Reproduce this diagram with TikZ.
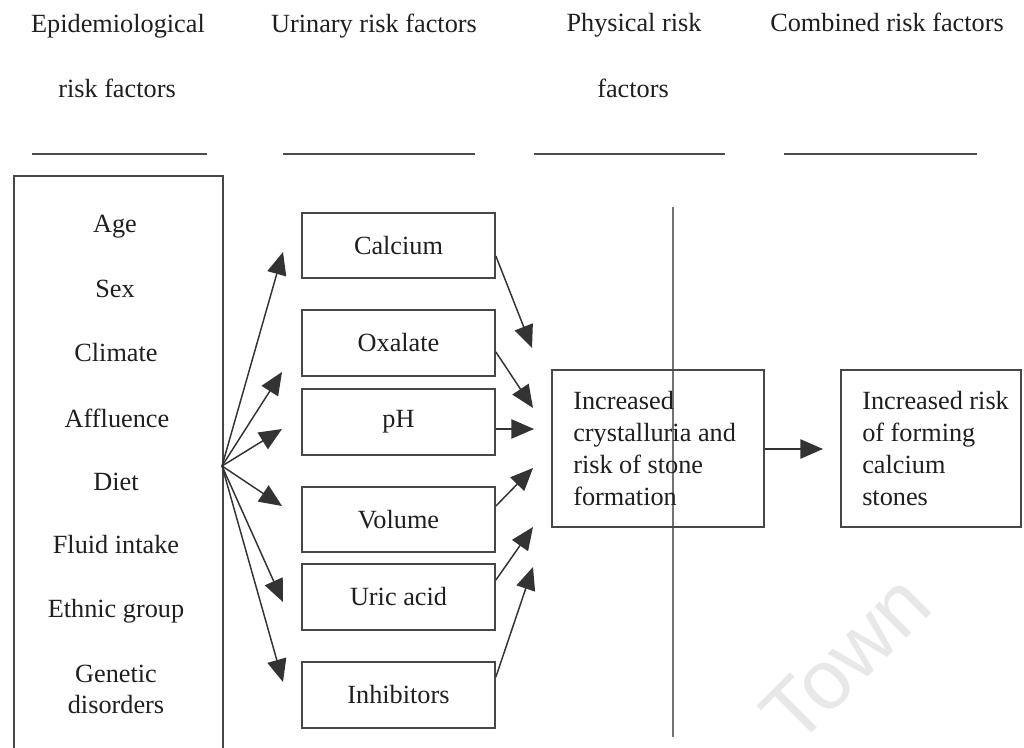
\documentclass[tikz,border=0pt]{standalone}
\usepackage{fontspec}
\setmainfont{Liberation Serif}
\newfontfamily\wmfont{Liberation Sans}
\usetikzlibrary{arrows.meta,calc}
\begin{document}
\begin{tikzpicture}[x=0.75pt,y=-0.75pt,
  every node/.style={text=black!88, font=\fontsize{19.7}{24}\selectfont},
  box/.style={draw=black!72, line width=1.3pt, inner sep=0pt},
  ubox/.style={box, minimum width=193*0.75pt, minimum height=65.5*0.75pt},
  hdr/.style={anchor=base, inner sep=0pt},
  item/.style={anchor=base, inner sep=0pt},
  rule/.style={draw=black!70, line width=1.1pt},
  conn/.style={draw=black!80, line width=1.1pt, -{Triangle[length=17pt,width=14.5pt]}},
  divider/.style={draw=black!55, line width=0.8pt}]
\useasboundingbox[fill=white] (0,0) rectangle (1024,748);

% watermark
\node[rotate=45, text=black!9, font=\wmfont\fontsize{63}{63}\selectfont, inner sep=0pt] (wm) at (846,659) {Town};

% headers
\node[hdr] (h1a) at (118,33) {Epidemiological};
\node[hdr] (h1b) at (117,98) {risk factors};
\node[hdr] (h2) at (374,33) {Urinary risk factors};
\node[hdr] (h3a) at (634,32) {Physical risk};
\node[hdr] (h3b) at (633,98) {factors};
\node[hdr] (h4) at (887,32) {Combined risk factors};

% underlines
\coordinate (u1a) at (32,154);  \coordinate (u1b) at (207,154);
\coordinate (u2a) at (283,154); \coordinate (u2b) at (475,154);
\coordinate (u3a) at (534,154); \coordinate (u3b) at (725,154);
\coordinate (u4a) at (784,154); \coordinate (u4b) at (977,154);
\draw[rule] (u1a) -- (u1b);
\draw[rule] (u2a) -- (u2b);
\draw[rule] (u3a) -- (u3b);
\draw[rule] (u4a) -- (u4b);

% divider line
\coordinate (dtop) at (673,207);
\coordinate (dbot) at (673,737);
\draw[divider] (dtop) -- (dbot);

% epidemiological box
\node[box, anchor=north west, minimum width=209*0.75pt, minimum height=600*0.75pt] (epi) at (13,175) {};
\node[item] (age) at (115,233) {Age};
\node[item] (sex) at (115,297.5) {Sex};
\node[item] (climate) at (116,362) {Climate};
\node[item] (affl) at (117,427) {Affluence};
\node[item] (diet) at (116,490) {Diet};
\node[item] (fluid) at (116,553) {Fluid intake};
\node[item] (ethnic) at (116,617) {Ethnic group};
\node[item] (genetic) at (116,682) {Genetic};
\node[item] (disord) at (116,713) {disorders};

% urinary boxes
\node[ubox] (calcium) at (398.5,245.5) {Calcium};
\node[ubox] (oxalate) at (398.5,343) {Oxalate};
\node[ubox] (ph) at (398.5,422) {pH};
\node[ubox] (volume) at (398.5,519.5) {Volume};
\node[ubox] (uric) at (398.5,597) {Uric acid};
\node[ubox] (inhib) at (398.5,695) {Inhibitors};

% physical and combined boxes
\node[box, minimum width=212*0.75pt, minimum height=157*0.75pt] (phys) at (658,448.5) {};
\node[anchor=north west, align=left, inner sep=0pt] (phystext) at (573,391.5) {Increased\\crystalluria and\\risk of stone\\formation};
\node[box, minimum width=180*0.75pt, minimum height=157*0.75pt] (comb) at (931,448.5) {};
\node[anchor=north west, align=left, inner sep=0pt] (combtext) at (862,391.5) {Increased risk\\of forming\\calcium\\stones};

% fan arrows
\coordinate (fan) at (222,466);
\coordinate (t1) at (283,252);
\coordinate (t2) at (282,372);
\coordinate (t3) at (282,429);
\coordinate (t4) at (282,506);
\coordinate (t5) at (283,602);
\coordinate (t6) at (283,682);
\foreach \t in {t1,t2,t3,t4,t5,t6} \draw[conn] (fan) -- (\t);

% arrows into physical box
\coordinate (p1) at (532,348);
\coordinate (p2) at (533,408);
\coordinate (p3) at (534,429);
\coordinate (p4) at (533,468);
\coordinate (p5) at (533,527);
\coordinate (p6) at (533,567);
\draw[conn] ($(calcium.east)+(0,10.5)$) -- (p1);
\draw[conn] ($(oxalate.east)+(0,9)$) -- (p2);
\draw[conn] ($(ph.east)+(0,7)$) -- (p3);
\draw[conn] ($(volume.east)+(0,-13.5)$) -- (p4);
\draw[conn] ($(uric.east)+(0,-17)$) -- (p5);
\draw[conn] ($(inhib.east)+(0,-18)$) -- (p6);

% physical to combined
\coordinate (c1) at (823,449);
\draw[conn] ($(phys.east)+(0,0.5)$) -- (c1);
\end{tikzpicture}
\end{document}
